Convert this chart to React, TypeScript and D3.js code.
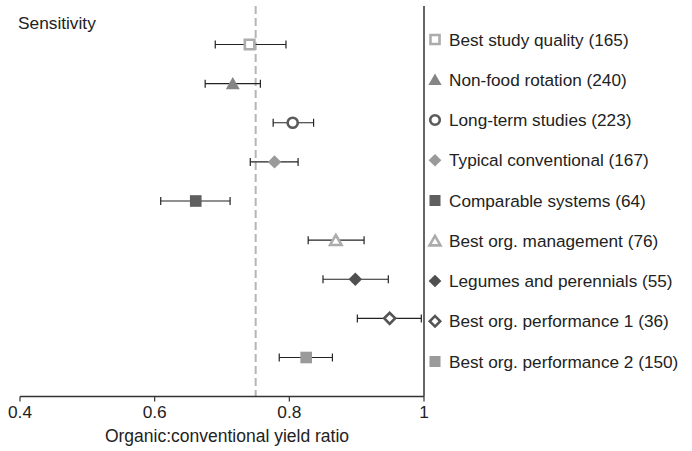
import * as d3 from "d3";

const labels = [
  "Best study quality (165)",
  "Non-food rotation (240)",
  "Long-term studies (223)",
  "Typical conventional (167)",
  "Comparable systems (64)",
  "Best org. management (76)",
  "Legumes and perennials (55)",
  "Best org. performance 1 (36)",
  "Best org. performance 2 (150)",
];
const means = [0.741, 0.716, 0.805, 0.778, 0.661, 0.869, 0.898, 0.949, 0.825];
const lower = [0.69, 0.675, 0.776, 0.742, 0.609, 0.828, 0.85, 0.901, 0.785];
const upper = [0.795, 0.757, 0.836, 0.813, 0.712, 0.911, 0.947, 0.996, 0.864];
const xTicks = [0.4, 0.6, 0.8, 1];
const reference = 0.75;

type Marker = { shape: "square" | "triangle" | "circle" | "diamond"; hollow: boolean; color: string };
const markers: Marker[] = [
  { shape: "square", hollow: true, color: "#acacac" },
  { shape: "triangle", hollow: false, color: "#858585" },
  { shape: "circle", hollow: true, color: "#5a5a5a" },
  { shape: "diamond", hollow: false, color: "#9a9a9a" },
  { shape: "square", hollow: false, color: "#5f5f5f" },
  { shape: "triangle", hollow: true, color: "#acacac" },
  { shape: "diamond", hollow: false, color: "#4f4f4f" },
  { shape: "diamond", hollow: true, color: "#555555" },
  { shape: "square", hollow: false, color: "#9a9a9a" },
];

const W = 692;
const H = 451;
const left = 20;
const right = 424;
const axisY = 396.5;
const font = "'Liberation Sans', Arial, Helvetica, sans-serif";

function symbolPath(m: Marker, s: number) {
  const types = {
    square: d3.symbolSquare,
    triangle: d3.symbolTriangle,
    circle: d3.symbolCircle,
    diamond: d3.symbolSquare,
  };
  const sizes = { square: 135, triangle: 85, circle: 120, diamond: 90 };
  return d3.symbol().type(types[m.shape]).size(sizes[m.shape] * s * s)()!;
}

function MarkerShape({ m, x, y, s }: { m: Marker; x: number; y: number; s: number }) {
  const dy = m.shape === "triangle" ? 1.5 : 0;
  const rot = m.shape === "diamond" ? " rotate(45)" : "";
  const hollowShrink = m.hollow ? 0.82 : 1;
  return (
    <path
      d={symbolPath(m, s * hollowShrink)}
      transform={`translate(${x},${y + dy})${rot}`}
      fill={m.hollow ? "#fff" : m.color}
      stroke={m.hollow ? m.color : "none"}
      strokeWidth={m.hollow ? 2.6 : 0}
      strokeLinejoin="miter"
    />
  );
}

export default function App() {
  const x = d3.scaleLinear().domain([0.4, 1]).range([left, right]);
  const y = d3
    .scalePoint<number>()
    .domain(d3.range(labels.length))
    .range([44.5, 357.5]);
  const ly = d3
    .scalePoint<number>()
    .domain(d3.range(labels.length))
    .range([39.5, 361.5]);

  return (
    <svg
      width={W}
      height={H}
      style={{ position: "absolute", left: 0, top: 0, background: "#fff" }}
      fontFamily={font}
    >
      <text x={18} y={29} fontSize={17.3} fill="#222">
        Sensitivity
      </text>

      <line
        x1={x(reference)}
        x2={x(reference)}
        y1={6}
        y2={axisY}
        stroke="#b5b5b5"
        strokeWidth={2}
        strokeDasharray="8,4"
      />

      {labels.map((_, i) => (
        <g key={i}>
          <line x1={x(lower[i])} x2={x(upper[i])} y1={y(i)} y2={y(i)} stroke="#222" strokeWidth={1.2} />
          <line x1={x(lower[i])} x2={x(lower[i])} y1={y(i)! - 4} y2={y(i)! + 4} stroke="#222" strokeWidth={1.2} />
          <line x1={x(upper[i])} x2={x(upper[i])} y1={y(i)! - 4} y2={y(i)! + 4} stroke="#222" strokeWidth={1.2} />
          <MarkerShape m={markers[i]} x={x(means[i])} y={y(i)!} s={1} />
        </g>
      ))}

      <line x1={right} x2={right} y1={6} y2={axisY} stroke="#333" strokeWidth={1.5} />
      <line x1={left} x2={right} y1={axisY} y2={axisY} stroke="#333" strokeWidth={1.5} />
      {xTicks.map((t) => (
        <g key={t}>
          <line x1={x(t)} x2={x(t)} y1={axisY} y2={axisY + 5} stroke="#333" strokeWidth={1.2} />
          <text x={x(t)} y={418} fontSize={17.3} textAnchor="middle" fill="#222">
            {String(t)}
          </text>
        </g>
      ))}
      <text x={227} y={442} fontSize={17.5} textAnchor="middle" fill="#222">
        Organic:conventional yield ratio
      </text>

      {labels.map((lab, i) => (
        <g key={lab}>
          <MarkerShape m={markers[i]} x={435} y={ly(i)!} s={0.95} />
          <text x={449} y={ly(i)!} dy="0.36em" fontSize={17.2} fill="#222">
            {lab}
          </text>
        </g>
      ))}
    </svg>
  );
}
